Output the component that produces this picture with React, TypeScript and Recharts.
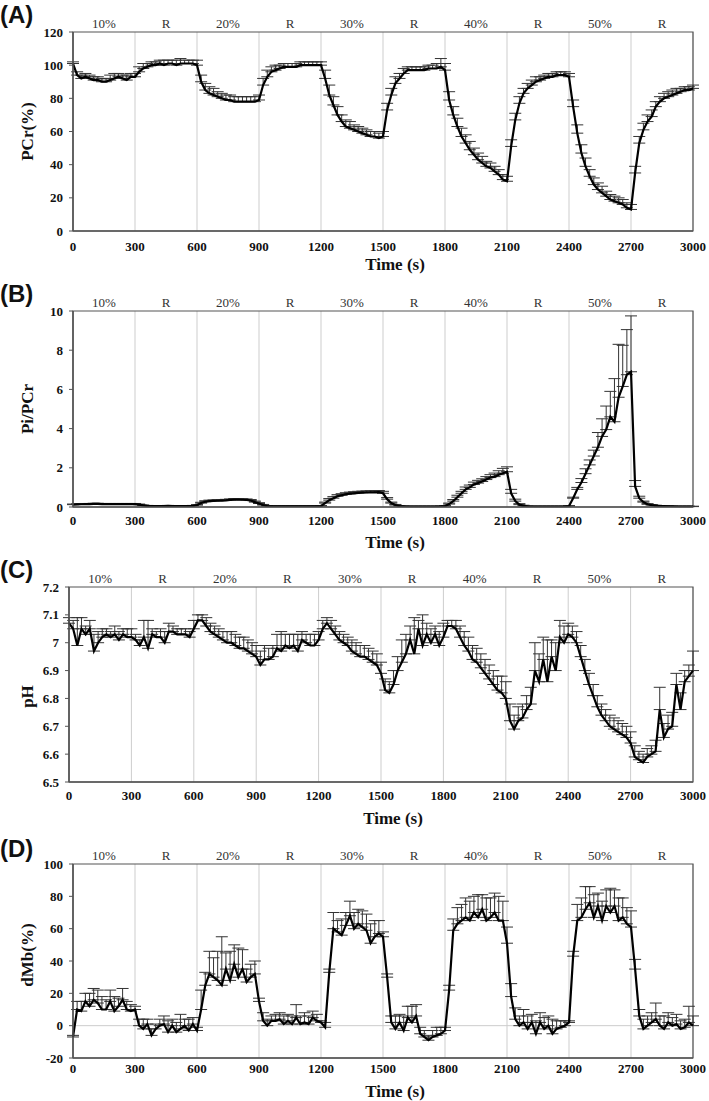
import React from 'react';
import { LineChart, Line, XAxis, YAxis, CartesianGrid, ErrorBar, ReferenceLine, ReferenceArea } from 'recharts';

// Time stamps (s)
const TIME_S = [
  0, 20, 40, 60, 80, 100, 120, 140, 160, 180, 200, 220, 240, 260, 280,
  300, 320, 340, 360, 380, 400, 420, 440, 460, 480, 500, 520, 540, 560, 580,
  600, 620, 640, 660, 680, 700, 720, 740, 760, 780, 800, 820, 840, 860, 880,
  900, 920, 940, 960, 980, 1000, 1020, 1040, 1060, 1080, 1100, 1120, 1140, 1160, 1180,
  1200, 1220, 1240, 1260, 1280, 1300, 1320, 1340, 1360, 1380, 1400, 1420, 1440, 1460, 1480,
  1500, 1520, 1540, 1560, 1580, 1600, 1620, 1640, 1660, 1680, 1700, 1720, 1740, 1760, 1780,
  1800, 1820, 1840, 1860, 1880, 1900, 1920, 1940, 1960, 1980, 2000, 2020, 2040, 2060, 2080,
  2100, 2120, 2140, 2160, 2180, 2200, 2220, 2240, 2260, 2280, 2300, 2320, 2340, 2360, 2380,
  2400, 2420, 2440, 2460, 2480, 2500, 2520, 2540, 2560, 2580, 2600, 2620, 2640, 2660, 2680,
  2700, 2720, 2740, 2760, 2780, 2800, 2820, 2840, 2860, 2880, 2900, 2920, 2940, 2960, 2980,
  3000,
];

const X_TICKS = [0, 300, 600, 900, 1200, 1500, 1800, 2100, 2400, 2700, 3000];
const PHASE_CENTERS = [150, 450, 750, 1050, 1350, 1650, 1950, 2250, 2550, 2850];
const PHASE_LABELS = ['10%', 'R', '20%', 'R', '30%', 'R', '40%', 'R', '50%', 'R'];

// (A) PCr (%)
const PCR_MEAN = [
  101, 94, 92, 93, 92, 91, 91, 90, 90, 91, 92, 93, 92, 91, 93,
  93, 96, 98, 99, 100, 100, 101, 100, 101, 101, 100, 101, 101, 101, 101,
  100, 90, 85, 83, 82, 81, 80, 79, 79, 78, 78, 78, 78, 78, 78,
  79, 88, 93, 96, 97, 98, 99, 99, 99, 99, 100, 100, 100, 100, 100,
  100, 92, 82, 76, 70, 66, 63, 62, 61, 60, 59, 58, 57, 57, 56,
  57, 73, 82, 89, 92, 95, 97, 97, 97, 97, 97, 98, 98, 98, 99,
  97, 79, 70, 63, 57, 53, 49, 46, 43, 41, 39, 38, 36, 34, 31,
  30, 51, 67, 77, 83, 86, 88, 90, 91, 92, 93, 93, 94, 94, 94,
  93, 75, 59, 47, 39, 33, 28, 25, 23, 21, 19, 18, 17, 16, 14,
  13, 35, 53, 61, 66, 69, 75, 78, 80, 81, 82, 83, 84, 85, 85,
  86,
];
const PCR_SD = [
  1, 2, 2, 2, 2, 2, 2, 2, 2, 3, 3, 2, 2, 3, 2,
  2, 3, 3, 2, 2, 2, 2, 3, 2, 2, 3, 3, 2, 2, 2,
  3, 4, 4, 4, 4, 3, 3, 3, 3, 3, 3, 3, 3, 3, 3,
  3, 4, 4, 3, 3, 2, 2, 2, 2, 2, 2, 2, 2, 2, 2,
  2, 5, 6, 5, 5, 4, 4, 4, 3, 3, 3, 3, 3, 3, 3,
  3, 4, 4, 4, 3, 3, 2, 2, 2, 2, 2, 2, 2, 3, 5,
  4, 5, 5, 5, 5, 5, 5, 4, 4, 4, 3, 3, 3, 3, 3,
  3, 4, 4, 4, 3, 3, 3, 3, 2, 2, 2, 2, 2, 2, 2,
  2, 4, 5, 5, 5, 4, 4, 4, 4, 3, 3, 3, 3, 3, 3,
  3, 4, 4, 4, 4, 4, 3, 3, 3, 3, 3, 3, 2, 2, 2,
  2,
];

// (B) Pi/PCr
const PIPCR_MEAN = [
  0.12, 0.13, 0.14, 0.15, 0.15, 0.16, 0.16, 0.15, 0.15, 0.15, 0.15, 0.15, 0.15, 0.15, 0.15,
  0.15, 0.12, 0.08, 0.06, 0.05, 0.05, 0.05, 0.05, 0.06, 0.05, 0.05, 0.05, 0.05, 0.05, 0.06,
  0.1, 0.2, 0.27, 0.3, 0.31, 0.32, 0.33, 0.34, 0.36, 0.38, 0.38, 0.37, 0.36, 0.33, 0.25,
  0.18, 0.1, 0.05, 0.03, 0.03, 0.03, 0.03, 0.03, 0.03, 0.03, 0.03, 0.03, 0.03, 0.03, 0.03,
  0.05, 0.2, 0.35, 0.45, 0.55, 0.6, 0.65, 0.68, 0.7, 0.72, 0.73, 0.74, 0.75, 0.75, 0.76,
  0.7, 0.4, 0.2, 0.1, 0.05, 0.03, 0.02, 0.02, 0.02, 0.02, 0.02, 0.02, 0.02, 0.02, 0.03,
  0.05, 0.15, 0.3, 0.5, 0.7, 0.9, 1.0, 1.15, 1.22, 1.3, 1.4, 1.5, 1.55, 1.65, 1.72,
  1.8, 0.7, 0.3, 0.12, 0.06, 0.03, 0.02, 0.02, 0.02, 0.02, 0.02, 0.02, 0.02, 0.02, 0.02,
  0.05, 0.45, 0.9, 1.25, 1.7, 2.15, 2.6, 3.05, 3.6, 3.95, 4.6, 4.35, 5.6, 6.15, 6.75,
  6.9, 1.05, 0.45, 0.25, 0.14, 0.1, 0.07, 0.05, 0.04, 0.03, 0.03, 0.02, 0.02, 0.02, 0.02,
  0.02,
];
const PIPCR_SD = [
  0.03, 0.03, 0.03, 0.03, 0.03, 0.03, 0.03, 0.03, 0.03, 0.03, 0.03, 0.03, 0.03, 0.03, 0.03,
  0.03, 0.03, 0.02, 0.02, 0.02, 0.02, 0.02, 0.02, 0.02, 0.02, 0.02, 0.02, 0.02, 0.02, 0.02,
  0.02, 0.04, 0.05, 0.05, 0.05, 0.05, 0.05, 0.05, 0.05, 0.05, 0.05, 0.05, 0.05, 0.05, 0.05,
  0.04, 0.03, 0.02, 0.02, 0.02, 0.02, 0.02, 0.02, 0.02, 0.02, 0.02, 0.02, 0.02, 0.02, 0.02,
  0.02, 0.05, 0.08, 0.08, 0.08, 0.08, 0.08, 0.08, 0.08, 0.08, 0.08, 0.08, 0.08, 0.08, 0.08,
  0.1, 0.08, 0.05, 0.03, 0.02, 0.02, 0.02, 0.02, 0.02, 0.02, 0.02, 0.02, 0.02, 0.02, 0.02,
  0.02, 0.05, 0.08, 0.1, 0.1, 0.12, 0.12, 0.12, 0.14, 0.14, 0.15, 0.15, 0.18, 0.2, 0.25,
  0.25, 0.2, 0.1, 0.05, 0.03, 0.02, 0.02, 0.02, 0.02, 0.02, 0.02, 0.02, 0.02, 0.02, 0.02,
  0.02, 0.05, 0.1, 0.2, 0.25, 0.25, 0.3, 0.75, 0.9, 1.2, 1.3, 2.2, 2.7, 2.1, 2.3,
  2.85, 0.3, 0.1, 0.05, 0.03, 0.02, 0.02, 0.02, 0.02, 0.02, 0.02, 0.02, 0.02, 0.02, 0.02,
  0.02,
];

// (C) pH
const PH_MEAN = [
  7.07, 7.05, 6.99, 7.05, 7.03, 7.05, 6.97, 7.0, 7.02, 7.03, 7.02, 7.03, 7.01, 7.03, 7.02,
  7.02, 7.01, 6.99, 7.02, 6.98, 7.03, 7.02, 7.02, 7.0, 7.04, 7.04, 7.03, 7.03, 7.03, 7.02,
  7.05, 7.08, 7.08, 7.06, 7.04, 7.03, 7.02, 7.01, 7.0, 7.0, 6.99, 6.98, 6.98, 6.97, 6.96,
  6.95, 6.92, 6.94, 6.94, 6.95, 6.98, 6.97, 6.99, 6.98, 6.99, 6.97, 7.01, 7.0, 6.99, 6.99,
  7.01, 7.05, 7.07, 7.05, 7.03, 7.01, 7.0, 6.99, 6.97, 6.96, 6.95, 6.95, 6.94, 6.93, 6.92,
  6.89, 6.83, 6.82, 6.85, 6.9, 6.93, 6.96, 7.01, 6.96, 7.05, 6.99, 7.03, 7.0, 7.03, 6.99,
  7.02, 7.06, 7.06, 7.05, 7.02, 6.99, 6.97, 6.94, 6.93, 6.91, 6.89, 6.87, 6.85, 6.83, 6.82,
  6.8, 6.72, 6.69, 6.72, 6.73, 6.76, 6.78, 6.9, 6.86, 6.94, 6.86, 6.95, 6.9, 7.02, 7.0,
  7.03, 7.02, 7.0, 6.95, 6.9, 6.85, 6.81, 6.77, 6.74, 6.72, 6.7, 6.69, 6.68, 6.67, 6.66,
  6.64, 6.59, 6.58, 6.57, 6.59, 6.6, 6.61, 6.76, 6.66, 6.69, 6.7, 6.85, 6.76, 6.86, 6.88,
  6.9,
];
const PH_SD = [
  0.02, 0.03, 0.1, 0.04, 0.03, 0.03, 0.06, 0.04, 0.03, 0.02, 0.02, 0.03, 0.03, 0.02, 0.03,
  0.03, 0.02, 0.02, 0.06, 0.1, 0.02, 0.02, 0.03, 0.04, 0.03, 0.02, 0.02, 0.02, 0.02, 0.02,
  0.03, 0.02, 0.02, 0.03, 0.03, 0.03, 0.03, 0.03, 0.04, 0.04, 0.04, 0.04, 0.04, 0.04, 0.04,
  0.04, 0.05, 0.05, 0.04, 0.04, 0.05, 0.07, 0.04, 0.05, 0.04, 0.06, 0.03, 0.03, 0.04, 0.04,
  0.03, 0.03, 0.02, 0.03, 0.03, 0.03, 0.03, 0.03, 0.04, 0.04, 0.04, 0.04, 0.04, 0.04, 0.04,
  0.04, 0.04, 0.04, 0.05, 0.05, 0.08, 0.07, 0.05, 0.13, 0.03, 0.11, 0.04, 0.05, 0.03, 0.05,
  0.05, 0.02, 0.02, 0.03, 0.04, 0.05, 0.05, 0.05, 0.05, 0.05, 0.05, 0.05, 0.05, 0.05, 0.06,
  0.06, 0.06, 0.05, 0.05, 0.05, 0.05, 0.06, 0.1, 0.1, 0.08, 0.15, 0.06, 0.1, 0.06, 0.06,
  0.04, 0.04, 0.04, 0.04, 0.04, 0.04, 0.04, 0.04, 0.04, 0.04, 0.04, 0.04, 0.04, 0.04, 0.04,
  0.04, 0.04, 0.03, 0.03, 0.03, 0.03, 0.04, 0.08, 0.05, 0.05, 0.05, 0.04, 0.06, 0.04, 0.04,
  0.07,
];

// (D) dMb (%)
const DMB_MEAN = [
  -7, 10, 9, 15, 12, 16, 14, 10, 10, 15, 9, 12, 16, 10, 9,
  10, 0, -2, 1, -6, -2, 0, 1, -4, 0, -4, -2, 0, -3, 1,
  -3, 10, 25, 32, 30, 28, 25, 35, 28, 38, 30, 35, 27, 30, 32,
  15, 3, 0, 3, 3, 4, 1, 3, 1, 5, 1, 2, 1, 5, 3,
  2, -1, 33, 60, 58, 56, 62, 68, 60, 63, 61, 59, 51, 55, 57,
  55, 30, 2, -2, 2, -3, 5, 2, 6, -5, -7, -9, -7, -6, -5,
  -3, 22, 59, 63, 65, 67, 65, 70, 67, 72, 65, 67, 70, 65, 65,
  51, 18, 4, 0, 2, -2, 2, -5, 2, -2, 0, -5, -2, -1, 0,
  2, 43, 65, 67, 72, 76, 67, 74, 65, 74, 70, 74, 65, 67, 63,
  61, 35, 6, -2, 0, 2, 4, 0, -2, 2, 0, 1, -2, -1, 2,
  0,
];
const DMB_SD = [
  1, 5, 6, 5, 8, 7, 8, 8, 6, 7, 9, 5, 7, 5, 4,
  2, 4, 6, 3, 4, 3, 4, 5, 7, 4, 6, 9, 4, 7, 4,
  2, 12, 8, 14, 12, 18, 30, 10, 18, 12, 18, 12, 8, 8, 8,
  2, 5, 4, 3, 4, 4, 5, 4, 5, 8, 5, 6, 5, 4, 4,
  1, 3, 2, 10, 7, 10, 8, 9, 10, 9, 10, 10, 12, 10, 8,
  3, 2, 4, 8, 5, 9, 7, 10, 7, 4, 4, 3, 4, 5, 4,
  2, 3, 7, 10, 10, 12, 12, 10, 14, 9, 14, 12, 12, 15, 12,
  10, 8, 7, 6, 8, 8, 5, 8, 6, 7, 6, 9, 5, 4, 3,
  1, 3, 10, 12, 14, 10, 14, 8, 12, 10, 15, 10, 14, 12, 10,
  10, 6, 4, 6, 6, 6, 10, 6, 8, 6, 5, 6, 5, 5, 10,
  6,
];

const PCR_TICKS = [0, 20, 40, 60, 80, 100, 120];
const PIPCR_TICKS = [0, 2, 4, 6, 8, 10];
const PH_TICKS = [6.5, 6.6, 6.7, 6.8, 6.9, 7.0, 7.1, 7.2];
const DMB_TICKS = [-20, 0, 20, 40, 60, 80, 100];

const SERIF = '"Liberation Serif", "Times New Roman", serif';
const SANS = '"Liberation Sans", Arial, sans-serif';
const TOP_AXIS_H = 20;
const BOTTOM_AXIS_H = 45;

type PanelProps = {
  tag: string;
  tagTop: number;
  plotTop: number;
  plotBottom: number;
  plotLeft: number;
  mean: number[];
  sd: number[];
  domain: [number, number];
  ticks: number[];
  yLabel: string;
  yLabelShift: number;
  tickGap: number;
  titleGap: number;
  zeroLine?: boolean;
  fmt?: (v: number) => string;
};

const YTitle = (props: any) => {
  const { viewBox, value, shift } = props;
  const cy = viewBox.y + viewBox.height / 2 + (shift || 0);
  return (
    <text
      transform={`translate(27, ${cy}) rotate(-90)`}
      textAnchor="middle"
      dominantBaseline="central"
      fontFamily={SERIF}
      fontWeight="bold"
      fontSize={17}
      fill="#111"
    >
      {value}
    </text>
  );
};

const XTitle = (props: any) => {
  const { viewBox, gap } = props;
  const x = viewBox.x + viewBox.width / 2 + 12;
  const y = viewBox.y + gap;
  return (
    <text x={x} y={y} textAnchor="middle" dominantBaseline="central" fontFamily={SERIF} fontWeight="bold" fontSize={17} fill="#111">
      Time (s)
    </text>
  );
};

function Panel(p: PanelProps) {
  const data = TIME_S.map((t, i) => ({ t, v: p.mean[i], e: [0, p.sd[i]] }));
  const plotH = p.plotBottom - p.plotTop;
  const H = plotH + TOP_AXIS_H + BOTTOM_AXIS_H;
  const fmt = p.fmt || ((v: number) => String(v));
  return (
    <>
      <div
        style={{
          position: 'absolute',
          left: 0,
          top: p.tagTop,
          fontFamily: SANS,
          fontWeight: 'bold',
          fontSize: 24,
          lineHeight: '26px',
          color: '#111',
        }}
      >
        {p.tag}
      </div>
      <div style={{ position: 'absolute', left: 0, top: p.plotTop - TOP_AXIS_H, width: 709, height: H }}>
        <LineChart width={709} height={H} data={data} margin={{ top: 0, right: 16, bottom: 0, left: 0 }}>
          <CartesianGrid horizontal={false} stroke="#cdcdcd" strokeWidth={1} />
          {p.zeroLine && <ReferenceLine y={0} stroke="#cdcdcd" strokeWidth={1} />}
          <XAxis
            xAxisId="top"
            orientation="top"
            dataKey="t"
            type="number"
            domain={[0, 3000]}
            ticks={PHASE_CENTERS}
            tickFormatter={(v: number) => PHASE_LABELS[PHASE_CENTERS.indexOf(v)]}
            height={TOP_AXIS_H}
            axisLine={false}
            tickLine={false}
            tickSize={0}
            tickMargin={4}
            tick={{ fontFamily: SERIF, fontSize: 13, fill: '#333' }}
          />
          <XAxis
            dataKey="t"
            type="number"
            domain={[0, 3000]}
            ticks={X_TICKS}
            height={BOTTOM_AXIS_H}
            axisLine={{ stroke: '#555', strokeWidth: 1.5 }}
            tickLine={false}
            tickSize={0}
            tickMargin={p.tickGap}
            tick={{ fontFamily: SERIF, fontWeight: 'bold', fontSize: 13, fill: '#111' }}
            label={<XTitle gap={p.titleGap} />}
          />
          <YAxis
            type="number"
            domain={p.domain}
            ticks={p.ticks}
            width={p.plotLeft}
            allowDataOverflow
            axisLine={{ stroke: '#555', strokeWidth: 1.5 }}
            tickLine={{ stroke: '#555' }}
            tickSize={4}
            tickMargin={6}
            tickFormatter={fmt}
            tick={{ fontFamily: SERIF, fontWeight: 'bold', fontSize: 13, fill: '#111' }}
            label={<YTitle value={p.yLabel} shift={p.yLabelShift} />}
          />
          <ReferenceArea
            x1={0}
            x2={3000}
            y1={p.domain[0]}
            y2={p.domain[1]}
            fill="none"
            fillOpacity={0}
            stroke="#555"
            strokeWidth={1.2}
          />
          <Line
            type="linear"
            dataKey="v"
            stroke="#000"
            strokeWidth={2.2}
            dot={false}
            isAnimationActive={false}
          >
            <ErrorBar dataKey="e" direction="y" width={6} stroke="#333" strokeWidth={1} isAnimationActive={false} />
          </Line>
        </LineChart>
      </div>
    </>
  );
}

export default function App() {
  return (
    <div style={{ position: 'absolute', left: 0, top: 0, width: 709, height: 1101, background: '#fff' }}>
      <Panel
        tag="(A)"
        tagTop={2}
        plotTop={32}
        plotBottom={231}
        plotLeft={73}
        mean={PCR_MEAN}
        sd={PCR_SD}
        domain={[0, 120]}
        ticks={PCR_TICKS}
        yLabel="PCr(%)"
        yLabelShift={0}
        tickGap={11}
        titleGap={33}
      />
      <Panel
        tag="(B)"
        tagTop={281}
        plotTop={311}
        plotBottom={507}
        plotLeft={73}
        mean={PIPCR_MEAN}
        sd={PIPCR_SD}
        domain={[0, 10]}
        ticks={PIPCR_TICKS}
        yLabel="Pi/PCr"
        yLabelShift={0}
        tickGap={9}
        titleGap={35}
      />
      <Panel
        tag="(C)"
        tagTop={557}
        plotTop={587}
        plotBottom={782}
        plotLeft={69}
        mean={PH_MEAN}
        sd={PH_SD}
        domain={[6.5, 7.2]}
        ticks={PH_TICKS}
        yLabel="pH"
        yLabelShift={12}
        tickGap={9}
        titleGap={36}
        fmt={(v: number) => String(Number(v.toFixed(1)))}
      />
      <Panel
        tag="(D)"
        tagTop={836}
        plotTop={864}
        plotBottom={1058}
        plotLeft={73}
        mean={DMB_MEAN}
        sd={DMB_SD}
        domain={[-20, 100]}
        ticks={DMB_TICKS}
        yLabel="dMb(%)"
        yLabelShift={-6}
        tickGap={6}
        titleGap={33}
        zeroLine
      />
    </div>
  );
}
